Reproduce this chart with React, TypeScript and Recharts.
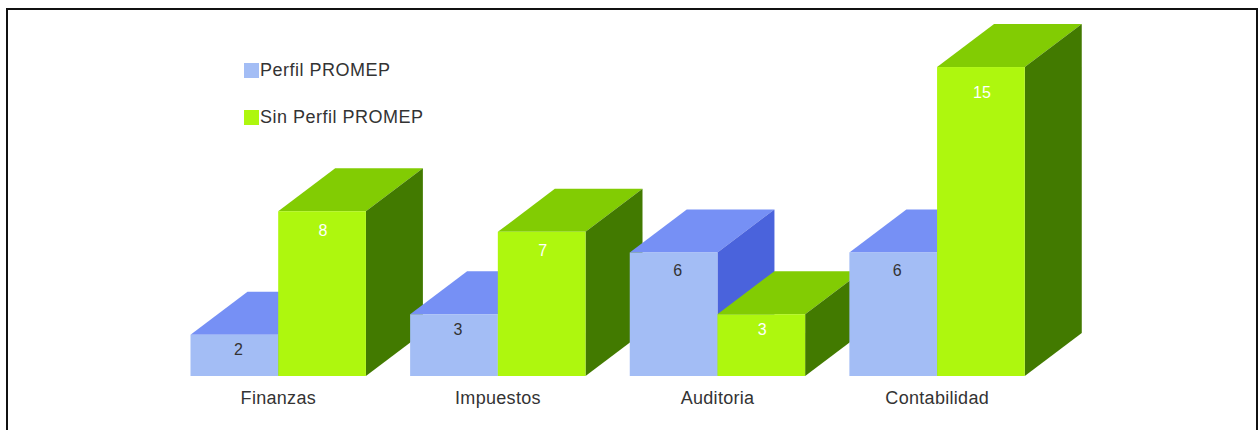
import { Bar, BarChart, Legend, XAxis, YAxis } from "recharts";

const categorias = ["Finanzas", "Impuestos", "Auditoria", "Contabilidad"];
const perfil = [2, 3, 6, 6];
const sinPerfil = [8, 7, 3, 15];
const leyenda = ["Perfil PROMEP", "Sin Perfil PROMEP"];

const azul = { frente: "#a3bdf5", arriba: "#7690f5", lado: "#4a63dc", texto: "#333333", corrido: 4 };
const verde = { frente: "#aef70e", arriba: "#82cc03", lado: "#427a00", texto: "#ffffff", corrido: 1 };

const FONDO_X = 57;
const FONDO_Y = 43;
const FUENTE = "'Liberation Sans', Arial, sans-serif";

// one column per category so the bars paint left to right and the 3D faces overlap properly
const filas = categorias.map((cat, i) => ({
  cat,
  [`perfil${i}`]: perfil[i],
  [`sin${i}`]: sinPerfil[i],
}));

function Caja({ x, y, width, height, paleta, payload, dataKey, background }: any) {
  const valor = payload?.[dataKey];
  if (valor === undefined || !height) return null;
  const der = x + width;
  const abajo = y + height;
  const tope = background?.y ?? 24;
  return (
    <g>
      <g style={{ clipPath: `inset(${tope}px 0 0 0 view-box)` }}>
        <polygon
          points={`${x},${y} ${x + FONDO_X},${y - FONDO_Y} ${der + FONDO_X},${y - FONDO_Y} ${der},${y}`}
          fill={paleta.arriba}
        />
      </g>
      <polygon
        points={`${der},${y} ${der + FONDO_X},${y - FONDO_Y} ${der + FONDO_X},${abajo - FONDO_Y} ${der},${abajo}`}
        fill={paleta.lado}
      />
      <rect x={x} y={y} width={width} height={height} fill={paleta.frente} />
      <text
        x={x + width / 2 + paleta.corrido}
        y={y + 13 + height * 0.04}
        dy="0.35em"
        textAnchor="middle"
        fontFamily={FUENTE}
        fontSize={16}
        fill={paleta.texto}
      >
        {valor}
      </text>
    </g>
  );
}

function Leyenda() {
  const paletas = [azul, verde];
  return (
    <div style={{ fontFamily: FUENTE, fontSize: 18, letterSpacing: 0.5, color: "#333" }}>
      {leyenda.map((t, i) => (
        <div key={t} style={{ display: "flex", alignItems: "center", height: 47, whiteSpace: "nowrap" }}>
          <span style={{ width: 15, height: 15, marginRight: 1, background: paletas[i].frente }} />
          {t}
        </div>
      ))}
    </div>
  );
}

export default function App() {
  return (
    <div style={{ position: "absolute", left: 0, top: 0, width: 1259, height: 430, overflow: "hidden", background: "#fff" }}>
      <div
        style={{
          position: "absolute",
          left: 6,
          top: 8,
          width: 1248,
          height: 460,
          border: "2px solid #111",
        }}
      />
      <div style={{ position: "absolute", left: 0, top: 0 }}>
        <BarChart
          width={1259}
          height={430}
          data={filas}
          margin={{ top: 24, right: 212, bottom: 0, left: 168.5 }}
          barSize={87.7}
          barGap={0}
        >
          <XAxis
            dataKey="cat"
            height={54}
            axisLine={false}
            tickLine={false}
            interval={0}
            tick={{ fontFamily: FUENTE, fontSize: 18, fill: "#333", letterSpacing: 0.3 }}
            tickMargin={9}
          />
          <YAxis hide domain={[0, 17.09]} />
          <Legend
            layout="vertical"
            align="center"
            verticalAlign="middle"
            content={<Leyenda />}
            wrapperStyle={{ left: 244, top: 47, width: 220, height: 100 }}
          />
          {categorias.flatMap((c, i) => [
            <Bar
              key={`p${c}`}
              dataKey={`perfil${i}`}
              stackId="perfil"
              isAnimationActive={false}
              shape={(p: any) => <Caja {...p} paleta={azul} />}
            />,
            <Bar
              key={`s${c}`}
              dataKey={`sin${i}`}
              stackId="sin"
              isAnimationActive={false}
              shape={(p: any) => <Caja {...p} paleta={verde} />}
            />,
          ])}
        </BarChart>
      </div>
    </div>
  );
}
